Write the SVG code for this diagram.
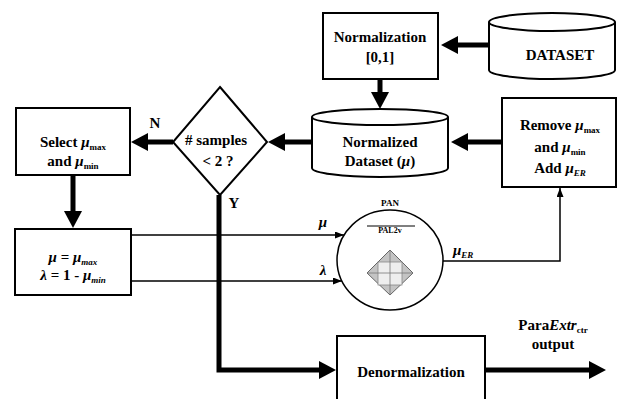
<svg xmlns="http://www.w3.org/2000/svg" width="617" height="399" viewBox="0 0 617 399">
<defs>
<marker id="big" markerUnits="userSpaceOnUse" markerWidth="17" markerHeight="18" refX="1" refY="9" orient="auto" viewBox="0 0 17 18"><path d="M0,0 L17,9 L0,18 z" fill="#000"/></marker>
<marker id="small" markerUnits="userSpaceOnUse" markerWidth="9" markerHeight="7" refX="9" refY="3.5" orient="auto" viewBox="0 0 9 7"><path d="M0,0 L9,3.5 L0,7 z" fill="#000"/></marker>
</defs>
<style>
.box{fill:#fff;stroke:#000;stroke-width:2}
.cyl{fill:#fff;stroke:#000;stroke-width:2}
.t{font-family:"Liberation Serif","Times New Roman",serif;font-weight:bold;font-size:15px;text-anchor:middle;fill:#000}
.s{font-family:"Liberation Serif","Times New Roman",serif;font-weight:bold;fill:#000}
.g{font-style:italic}
.sub{font-size:9px}
.thick{stroke:#000;stroke-width:5;fill:none;marker-end:url(#big)}
.thin{stroke:#000;stroke-width:1.5;fill:none;marker-end:url(#small)}
.thinl{stroke:#000;stroke-width:1.5;fill:none}
</style>

<g id="connectors">
<line class="thick" x1="489" y1="45" x2="457" y2="45"/>
<line class="thick" x1="380" y1="79" x2="380" y2="93"/>
<line class="thick" x1="502" y1="142" x2="467" y2="142"/>
<line class="thick" x1="312" y1="142" x2="284" y2="142"/>
<line class="thick" x1="173" y1="142" x2="147" y2="142"/>
<line class="thick" x1="73" y1="175" x2="73" y2="212"/>
<path class="thick" d="M219,195 V370 H320"/>
<line class="thick" x1="485" y1="370" x2="590" y2="370"/>
<line class="thin" x1="131" y1="235" x2="344" y2="235"/>
<line class="thin" x1="131" y1="281" x2="342" y2="281"/>
<path class="thin" d="M443,261 H560 V188"/>
</g>

<g id="normalization">
<rect class="box" x="323" y="13" width="115" height="66"/>
<text class="t" x="380" y="42">Normalization</text>
<text class="t" x="380" y="62">[0,1]</text>
</g>

<g id="dataset">
<path class="cyl" d="M489,22 V70 A63,9 0 0 0 615,70 V22"/>
<ellipse class="cyl" cx="552" cy="22" rx="63" ry="9"/>
<text class="t" x="560" y="60">DATASET</text>
</g>

<g id="normalized-dataset">
<path class="cyl" d="M312,117 V168 A68,9 0 0 0 448,168 V117"/>
<ellipse class="cyl" cx="380" cy="117" rx="68" ry="8"/>
<text class="t" x="380" y="147">Normalized</text>
<text class="t" x="380" y="166">Dataset (<tspan class="g">μ</tspan>)</text>
</g>

<g id="remove">
<rect class="box" x="502" y="98" width="114" height="89"/>
<text class="t" x="560" y="130">Remove <tspan class="g">μ</tspan><tspan class="sub" dy="3">max</tspan></text>
<text class="t" x="560" y="152">and <tspan class="g">μ</tspan><tspan class="sub" dy="3">min</tspan></text>
<text class="t" x="560" y="173">Add <tspan class="g">μ</tspan><tspan class="sub g" dy="3">ER</tspan></text>
</g>

<g id="decision">
<polygon points="220,87 267,142 220,195 173,142" fill="#fff" stroke="#000" stroke-width="2"/>
<text class="t" x="216" y="145"># samples</text>
<text class="t" x="218" y="166">&lt; 2 ?</text>
<text class="t" x="155" y="128">N</text>
<text class="t" x="234" y="208">Y</text>
</g>

<g id="select">
<rect class="box" x="16" y="108" width="114" height="67"/>
<text class="t" x="73" y="147">Select <tspan class="g">μ</tspan><tspan class="sub" dy="3">max</tspan></text>
<text class="t" x="73" y="166">and <tspan class="g">μ</tspan><tspan class="sub" dy="3">min</tspan></text>
</g>

<g id="assign">
<rect class="box" x="15" y="229" width="116" height="66"/>
<text class="t" x="73" y="262"><tspan class="g">μ</tspan> = <tspan class="g">μ</tspan><tspan class="sub g" dy="3">max</tspan></text>
<text class="t" x="73" y="280"><tspan class="g">λ</tspan> = 1 - <tspan class="g">μ</tspan><tspan class="sub g" dy="3">min</tspan></text>
</g>

<g id="pan">
<ellipse cx="390" cy="260" rx="53" ry="50" fill="#fff" stroke="#000" stroke-width="1.5"/>
<text class="s" x="390" y="206" font-size="9" text-anchor="middle">PAN</text>
<line x1="367" y1="226" x2="415" y2="226" stroke="#000" stroke-width="1"/>
<text class="s" x="390" y="233" font-size="8" text-anchor="middle">PAL2v</text>
<polygon points="390,250 413,273 390,295 367,273" fill="#c4c4c4" stroke="#666" stroke-width="1"/>
<rect x="378" y="262" width="24" height="23" fill="#eeeeee" stroke="#888" stroke-width="0.8"/>
<line x1="390" y1="250" x2="390" y2="295" stroke="#777" stroke-width="0.8"/>
<line x1="367" y1="273" x2="413" y2="273" stroke="#777" stroke-width="0.8"/>
<text class="s g" x="323" y="227" font-size="15" text-anchor="middle">μ</text>
<text class="s g" x="323" y="275" font-size="15" text-anchor="middle">λ</text>
<text class="s" x="453" y="255" font-size="15"><tspan class="g">μ</tspan><tspan class="g" font-size="9" dy="3">ER</tspan></text>
</g>

<g id="denormalization">
<rect class="box" x="337" y="336" width="148" height="66"/>
<text class="t" x="411" y="377">Denormalization</text>
</g>

<g id="output">
<text class="t" x="553" y="330">Para<tspan class="g">Extr</tspan><tspan class="sub" dy="3">ctr</tspan></text>
<text class="t" x="553" y="349">output</text>
</g>
</svg>
